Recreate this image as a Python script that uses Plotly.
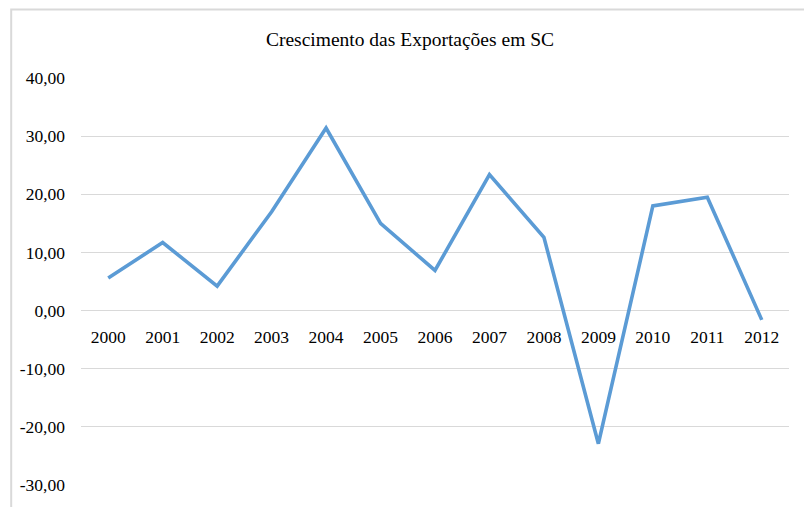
import plotly.graph_objects as go

years = ["2000", "2001", "2002", "2003", "2004", "2005", "2006",
         "2007", "2008", "2009", "2010", "2011", "2012"]
growth = [5.6, 11.7, 4.2, 17.0, 31.4, 15.0, 6.9, 23.4, 12.6, -22.9, 18.0, 19.5, -1.6]
ytick_vals = [-30, -20, -10, 0, 10, 20, 30, 40]
ytick_text = ["-30,00", "-20,00", "-10,00", "0,00", "10,00", "20,00", "30,00", "40,00"]
title_text = "Crescimento das Exportações em SC"

YMIN, YMAX = -30, 40
FONT = "Liberation Serif"

# The page body has an 8px margin, so the figure is sized to fit the window.
W, H = 804, 499
L, R, T, B = 71, 23, 70, 19
PW, PH = W - L - R, H - T - B

fig = go.Figure()
fig.add_trace(go.Scatter(
    x=years, y=growth, mode="lines",
    line=dict(color="#5B9BD5", width=3.6),
    hoverinfo="skip",
))

fig.update_layout(
    width=W, height=H,
    margin=dict(l=L, r=R, t=T, b=B),
    paper_bgcolor="white", plot_bgcolor="white",
    showlegend=False,
    title=dict(text=title_text, x=0.5, xanchor="center", y=1 - 31 / H, yanchor="middle",
               font=dict(family=FONT, size=19.5, color="#000000")),
    font=dict(family=FONT, color="#000000"),
    xaxis=dict(
        type="category", range=[-0.5, 12.5],
        anchor="free", position=(0 - YMIN) / (YMAX - YMIN),
        showline=False, showgrid=False, zeroline=False,
        ticks="", ticklabelstandoff=14,
        tickfont=dict(family=FONT, size=17.5, color="#000000"),
    ),
    yaxis=dict(
        range=[YMIN, YMAX], tickvals=ytick_vals, ticktext=ytick_text,
        showgrid=True, gridcolor="#D9D9D9", gridwidth=1.3,
        zeroline=False, showline=False, ticks="",
        ticklabelstandoff=15,
        tickfont=dict(family=FONT, size=17.5, color="#000000"),
    ),
    shapes=[dict(
        type="rect", xref="paper", yref="paper",
        x0=(1 - L) / PW, x1=(801 - L) / PW,
        y0=-0.2, y1=(H - B - 1) / PH,
        line=dict(color="#D9D9D9", width=2), layer="below",
    )],
)

fig.write_html("out.html")
